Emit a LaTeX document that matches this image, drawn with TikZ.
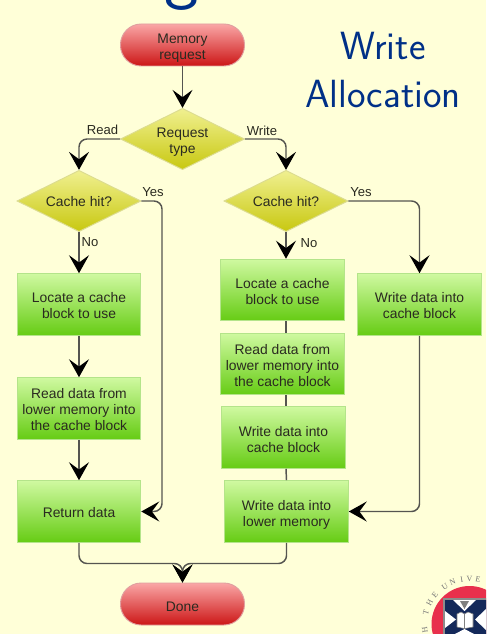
\documentclass[tikz,border=0pt]{standalone}
\usepackage{fontspec}
\setmainfont{Liberation Sans}
\setsansfont{Latin Modern Sans}
\newfontfamily\sealfont{Liberation Serif}
\usetikzlibrary{shapes.geometric,arrows.meta}
\definecolor{bg}{HTML}{FFFFD8}
\definecolor{titleblue}{HTML}{003087}
\definecolor{wire}{HTML}{555550}
\definecolor{ink}{HTML}{2A2A20}
\definecolor{procTop}{HTML}{CFF9A0}
\definecolor{procBot}{HTML}{66CC14}
\definecolor{procEdge}{HTML}{B4E48A}
\definecolor{termTop}{HTML}{FAA6A6}
\definecolor{termBot}{HTML}{CC1616}
\definecolor{termEdge}{HTML}{E0A0A0}
\definecolor{decTop}{HTML}{F0F090}
\definecolor{decBot}{HTML}{C8C810}
\definecolor{decEdge}{HTML}{DCDC90}
\definecolor{sealred}{HTML}{E8304C}
\definecolor{sealnavy}{HTML}{14295A}
\newcommand{\pushdown}[1]{\rule{0pt}{#1}}
\tikzset{
  x=0.75pt,y=-0.75pt,
  flowtext/.style={font=\fontsize{10.4}{12}\selectfont,text=ink,align=center,inner sep=0pt},
  proc/.style={flowtext,rectangle,line width=0.9pt,minimum width=92.5pt,minimum height=46pt,top color=procTop,bottom color=procBot,draw=procEdge},
  term/.style={flowtext,rectangle,rounded corners=15.5pt,minimum width=93pt,minimum height=31.5pt,top color=termTop,bottom color=termBot,draw=termEdge,line width=0.7pt},
  decide/.style={flowtext,diamond,shape aspect=2,minimum width=93pt,minimum height=46pt,top color=decTop,bottom color=decBot,draw=decEdge,line width=0.7pt},
  flow/.style={draw=wire,line width=1.1pt,rounded corners=6pt},
  tip/.style={-{Stealth[length=13.5pt,width=15pt,inset=5.5pt,color=black]}},
  lab/.style={flowtext,font=\fontsize{9.8}{11}\selectfont},
  titletext/.style={font=\sffamily\fontsize{29.5}{32}\selectfont,text=titleblue,inner sep=0pt,anchor=base},
  sealtext/.style={font=\sealfont\fontsize{6}{7}\selectfont,text=black!55,inner sep=0pt}
}
\begin{document}
\begin{tikzpicture}
\useasboundingbox (0,0) rectangle (486,634);
\clip (0,0) rectangle (486,634);
\fill[bg] (0,0) rectangle (486,634);

\node[titletext,font=\sffamily\fontsize{55}{60}\selectfont] (g) at (181.5,-4) {g};
\node[titletext] (t1) at (383,59.5) {Write};
\node[titletext] (t2) at (383,108) {Allocation};

\node[term] (start) at (182.5,45) {\pushdown{12pt}Memory\\request};
\node[decide] (req) at (182.5,139) {\pushdown{12pt}Request\\type};
\node[decide] (hitL) at (79,201) {\pushdown{9pt}Cache hit?};
\node[decide] (hitR) at (286,201) {\pushdown{9pt}Cache hit?};
\node[proc] (locL) at (79,304.5) {\pushdown{9pt}Locate a cache\\block to use};
\node[proc] (readL) at (79,408.5) {\pushdown{9pt}Read data from\\lower memory into\\the cache block};
\node[proc] (ret) at (79,511.5) {\pushdown{9pt}Return data};
\node[proc] (locR) at (282.5,290) {\pushdown{10.5pt}Locate a cache\\block to use};
\node[proc] (readR) at (282.5,364) {\pushdown{10.5pt}Read data from\\lower memory into\\the cache block};
\node[proc] (wrR) at (283.5,437.5) {\pushdown{10.5pt}Write data into\\cache block};
\node[proc] (wrLow) at (286.5,511.5) {\pushdown{12pt}Write data into\\lower memory};
\node[proc] (wrC) at (419.5,304.5) {\pushdown{9pt}Write data into\\cache block};
\node[term] (done) at (182.5,604) {\pushdown{11pt}Done};

\coordinate (turnL) at (162,511.5);
\coordinate (turnR) at (419.5,511.5);
\coordinate (merge) at (182.5,563.5);

\draw[flow,tip] (start) -- (req);
\draw[flow,tip] (req.west) -| (hitL.north);
\draw[flow,tip] (req.east) -| (hitR.north);
\draw[flow,tip] (hitL.south) -- (locL.north);
\draw[flow,tip] (locL.south) -- (readL.north);
\draw[flow,tip] (readL.south) -- (ret.north);
\draw[flow,tip] (hitL.east) -| (turnL) -- (ret.east);
\draw[flow,tip] (hitR.south) -- (hitR.south |- locR.north);
\draw[flow] (locR.south -| hitR.south) -- (readR.north -| hitR.south);
\draw[flow] (readR.south -| hitR.south) -- (wrR.north -| hitR.south);
\draw[flow] (wrR.south -| hitR.south) -- (wrLow.north);
\draw[flow,tip] (hitR.east) -| (wrC.north);
\draw[flow,tip] (wrC.south) -- (turnR) -- (wrLow.east);
\draw[flow,tip] (ret.south) |- (merge) -- (done.north);
\draw[flow,tip] (wrLow.south) |- (merge) -- (done.north);

\node[lab] (lread) at (102.5,130) {Read};
\node[lab] (lwrite) at (262,130.5) {Write};
\node[lab] (lyes1) at (153,192) {Yes};
\node[lab] (lyes2) at (361,192) {Yes};
\node[lab] (lno1) at (90,242) {No};
\node[lab] (lno2) at (309,243) {No};

% seal
\fill[sealred] (469.5,624) circle (38);
\fill[black!45] (443,598) rectangle (490,640);
\fill[sealnavy] (445,600) rectangle (490,640);
\fill[white] (453,600) -- (476,600) -- (464.5,611) -- cycle;
\fill[white] (445,611) -- (456,619.5) -- (445,628) -- cycle;
\fill[white] (486,609) -- (475,619.5) -- (486,630) -- cycle;
\fill[white] (455,634) -- (474,634) -- (464.5,629) -- cycle;
\fill[black!50] (460,601) -- (469,601) -- (464.5,609) -- cycle;
\fill[white,draw=black!50,line width=0.4pt] (457,614) -- (461,612) -- (464.5,614) -- (468,612) -- (473,614) -- (473,627) -- (464.5,628.5) -- (457,627) -- cycle;
\draw[black!50,line width=0.4pt] (464.5,614) -- (464.5,628.5);
\foreach \ch/\ang in {H/188,T/165,H/152,E/140,U/123,N/112,I/100,V/90,E/79}{
  \node[sealtext,rotate=\ang-90] at ({469.5+45*cos(\ang)},{624-45*sin(\ang)}) {\ch};
}
\end{tikzpicture}
\end{document}
